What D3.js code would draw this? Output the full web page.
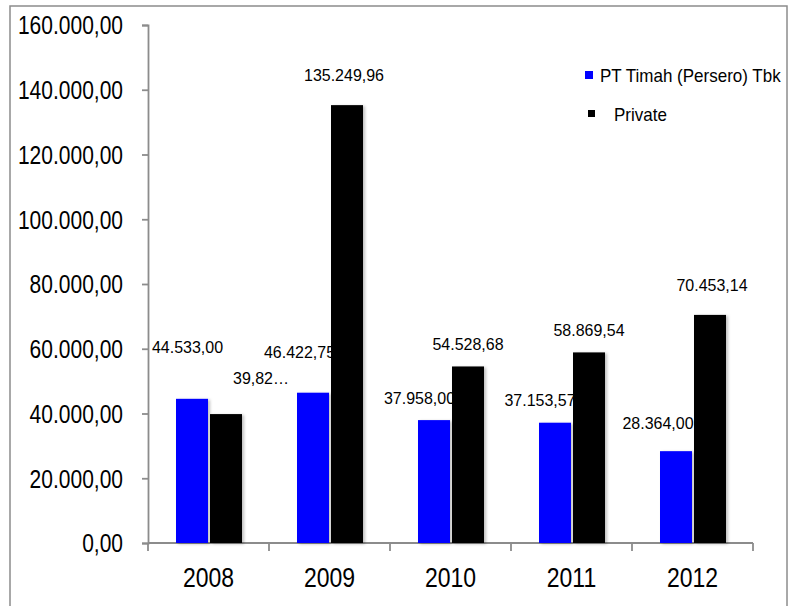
<!DOCTYPE html>
<html>
<head>
<meta charset="utf-8">
<script src="https://cdn.jsdelivr.net/npm/d3@7"></script>
<style>
  html, body { margin: 0; padding: 0; background: #fff; }
  svg { display: block; }
  text { font-family: "Liberation Sans", Arial, sans-serif; fill: #000; }
</style>
</head>
<body>
<svg id="chart" width="788" height="606"></svg>
<script>
// ---- data ----
const categories = ["2008", "2009", "2010", "2011", "2012"];
const seriesNames = ["PT Timah (Persero) Tbk", "Private"];
const timahValues = [44533.00, 46422.75, 37958.00, 37153.57, 28364.00];
const privateValues = [39820.00, 135249.96, 54528.68, 58869.54, 70453.14];
const yTicks = [0, 20000, 40000, 60000, 80000, 100000, 120000, 140000, 160000];
const privateLabelOverride = { "2008": "39,82…" };
// label nudges relative to bar top / bar centre (pixels)
const timahNudge = [[-4.5, -52], [-13.5, -41], [-14.5, -22], [-15, -23], [-18, -28]];
const privateNudge = [[35, -36], [-3, -30], [0, -22], [0, -22], [2, -30]];

const colors = ["#0000ff", "#000000"];

const locale = d3.formatLocale({ decimal: ",", thousands: ".", grouping: [3], currency: ["", ""] });
const fmt = locale.format(",.2f");

const svg = d3.select("#chart");

// frame
svg.append("rect").attr("x", 10).attr("y", 6).attr("width", 777).attr("height", 610)
  .attr("fill", "none").attr("stroke", "#8c8c8c").attr("stroke-width", 1.5);

// shadow filter
const defs = svg.append("defs");
const f = defs.append("filter").attr("id", "sh").attr("x", "-30%").attr("y", "-10%").attr("width", "160%").attr("height", "130%");
f.append("feDropShadow").attr("dx", 2).attr("dy", 1).attr("stdDeviation", 1.5)
  .attr("flood-color", "#000").attr("flood-opacity", 0.25);

const x0 = d3.scaleBand().domain(categories).range([148, 753]).padding(0);
const x1 = d3.scaleBand().domain([0, 1]).range([28, 94]).paddingInner(0.0588);
const y = d3.scaleLinear().domain([0, 160000]).range([543, 25]);

const axisColor = "#8c8c8c";

// y axis
const yAxis = svg.append("g").attr("transform", "translate(148,0)")
  .call(d3.axisLeft(y).tickValues(yTicks).tickSize(6).tickPadding(19).tickFormat(d => fmt(d)));
yAxis.select(".domain").attr("stroke", axisColor).attr("stroke-width", 1.8);
yAxis.selectAll(".tick line").attr("stroke", axisColor).attr("stroke-width", 1.8);
yAxis.selectAll(".tick text").each(function() {
  const t = d3.select(this);
  const xx = +t.attr("x");
  t.attr("x", null).attr("dy", null)
   .attr("transform", `translate(${xx},0) scale(1,1.2)`)
   .attr("dy", "0.35em")
   .style("font-size", "21px").style("font-family", '"Liberation Sans", Arial, sans-serif');
});

// x axis
const xAxis = svg.append("g").attr("transform", "translate(0,543)")
  .call(d3.axisBottom(x0).tickSize(0).tickFormat(d => d));
xAxis.select(".domain").attr("stroke", axisColor).attr("stroke-width", 1.8).attr("d", "M148,0H753");
xAxis.selectAll(".tick text").attr("y", null).attr("dy", null)
  .attr("transform", "translate(0,34) scale(1,1.19)").attr("dy", "0.35em")
  .style("font-size", "23px").style("font-family", '"Liberation Sans", Arial, sans-serif');
// boundary ticks
const bounds = categories.map(c => x0(c)).concat([x0(categories[categories.length - 1]) + x0.bandwidth()]);
xAxis.selectAll(".btick").data(bounds).join("line").attr("class", "btick")
  .attr("x1", d => d).attr("x2", d => d).attr("y1", 0).attr("y2", 8)
  .attr("stroke", axisColor).attr("stroke-width", 1.8);

function drawBars(vals, si) {
  svg.append("g").selectAll("rect").data(vals).join("rect")
    .attr("x", (d, i) => x0(categories[i]) + x1(si))
    .attr("y", d => y(d))
    .attr("width", x1.bandwidth())
    .attr("height", d => y(0) - y(d))
    .attr("fill", colors[si])
    .attr("filter", "url(#sh)");
}
function drawLabels(vals, si, nudge) {
  svg.append("g").selectAll("text").data(vals).join("text")
    .attr("transform", (d, i) => `translate(${x0(categories[i]) + x1(si) + x1.bandwidth() / 2 + nudge[i][0]},${y(d) + nudge[i][1]}) scale(1,1.06)`)
    .attr("dy", "0.35em")
    .attr("text-anchor", "middle")
    .style("font-size", "16px")
    .text((d, i) => (si === 1 && privateLabelOverride[categories[i]]) ? privateLabelOverride[categories[i]] : fmt(d));
}

drawBars(timahValues, 0);
drawLabels(timahValues, 0, timahNudge);
drawBars(privateValues, 1);
drawLabels(privateValues, 1, privateNudge);

// legend
const legend = svg.append("g");
const legendItems = [
  { name: seriesNames[0], color: colors[0], sx: 585, sy: 71, tx: 600, ty: 75, s: 8 },
  { name: seriesNames[1], color: colors[1], sx: 588, sy: 110, tx: 614, ty: 114, s: 7 }
];
legendItems.forEach(it => {
  legend.append("rect").attr("x", it.sx).attr("y", it.sy).attr("width", it.s)
    .attr("height", it.s).attr("fill", it.color);
  legend.append("text").attr("transform", `translate(${it.tx},${it.ty}) scale(1,1.1)`)
    .attr("dy", "0.35em").style("font-size", "17px").text(it.name);
});
</script>
</body>
</html>
